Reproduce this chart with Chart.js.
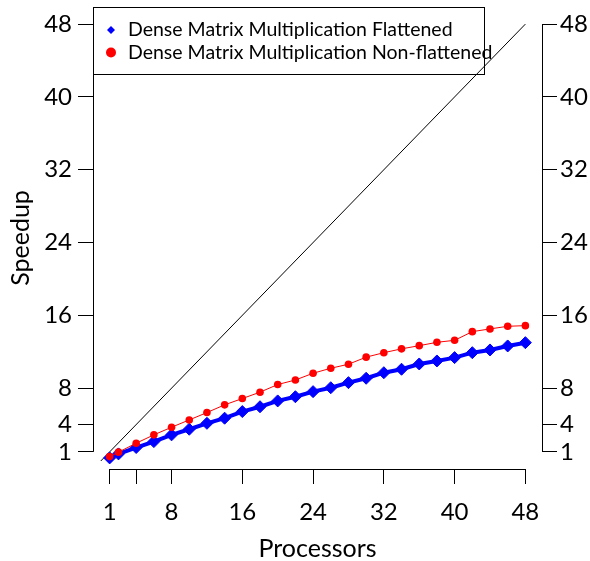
<!DOCTYPE html>
<html>
<head>
<meta charset="utf-8">
<script src="https://cdn.jsdelivr.net/npm/chart.js@4/dist/chart.umd.min.js"></script>
<style>
  body { margin: 0; background: #fff; }
  canvas { display: block; }
</style>
</head>
<body>
<canvas id="grafico" width="590" height="561"></canvas>
<script>
// datos
const processors = [1, 2, 4, 6, 8, 10, 12, 14, 16, 18, 20, 22, 24, 26, 28, 30, 32, 34, 36, 38, 40, 42, 44, 46, 48];
const flattened = [0.34, 0.78, 1.48, 2.13, 2.87, 3.49, 4.14, 4.70, 5.43, 5.96, 6.60, 7.06, 7.62, 8.05, 8.61, 9.09, 9.70, 10.08, 10.66, 10.99, 11.36, 11.90, 12.20, 12.64, 13.00];
const nonFlattened = [0.48, 0.97, 1.95, 2.87, 3.71, 4.51, 5.32, 6.17, 6.86, 7.56, 8.40, 8.90, 9.64, 10.19, 10.63, 11.41, 11.90, 12.32, 12.67, 13.04, 13.26, 14.21, 14.51, 14.80, 14.87];
const idealLine = [0, 48];
const xTicks = [1, 4, 8, 16, 24, 32, 40, 48];
const xTickLabels = ['1', '', '8', '16', '24', '32', '40', '48'];
const yTicks = [1, 4, 8, 16, 24, 32, 40, 48];
const yTickLabels = ['1', '4', '8', '16', '24', '32', '40', '48'];
const seriesNames = ['Dense Matrix Multiplication Flattened', 'Dense Matrix Multiplication Non-flattened'];

const fuente = 'Lato, "DejaVu Sans", sans-serif';
const azul = '#0000ff';
const rojo = '#ff0000';

function fijarTicks(valores) {
    return function (scale) {
        scale.ticks = valores.map(v => ({ value: v }));
    };
}

function etiqueta(valores, textos) {
    return function (value) {
        const i = valores.indexOf(value);
        return i >= 0 ? textos[i] : '';
    };
}

// ejes estilo R: linea solo entre el primer y el ultimo tick
const ejesR = {
    id: 'ejesR',
    afterDatasetsDraw(chart) {
        const ctx = chart.ctx;
        const a = chart.chartArea;
        const x = chart.scales.x, y = chart.scales.y;
        ctx.save();
        ctx.strokeStyle = '#000';
        ctx.lineWidth = 1;
        ctx.beginPath();
        const xl = Math.round(a.left) + 0.5, xr = Math.round(a.right) + 0.5, yb = Math.round(a.bottom) + 0.5;
        ctx.moveTo(xl, y.getPixelForValue(yTicks[0]));
        ctx.lineTo(xl, y.getPixelForValue(yTicks[yTicks.length - 1]));
        ctx.moveTo(xr, y.getPixelForValue(yTicks[0]));
        ctx.lineTo(xr, y.getPixelForValue(yTicks[yTicks.length - 1]));
        ctx.moveTo(x.getPixelForValue(xTicks[0]), yb);
        ctx.lineTo(x.getPixelForValue(xTicks[xTicks.length - 1]), yb);
        ctx.stroke();
        ctx.restore();
    }
};

// leyenda con caja, arriba a la izquierda
const leyendaR = {
    id: 'leyendaR',
    afterDraw(chart) {
        const ctx = chart.ctx;
        const a = chart.chartArea;
        const x0 = Math.round(a.left) + 0.5, y0 = Math.round(a.top) + 0.5;
        ctx.save();
        ctx.strokeStyle = '#000';
        ctx.lineWidth = 1;
        ctx.strokeRect(x0, y0, 391, 67);
        const mx = x0 + 17.5;
        const filas = [y0 + 22.5, y0 + 45];
        // rombo azul
        ctx.fillStyle = azul;
        ctx.beginPath();
        ctx.moveTo(mx - 4, filas[0]);
        ctx.lineTo(mx, filas[0] - 4);
        ctx.lineTo(mx + 4, filas[0]);
        ctx.lineTo(mx, filas[0] + 4);
        ctx.closePath();
        ctx.fill();
        // circulo rojo
        ctx.fillStyle = rojo;
        ctx.beginPath();
        ctx.arc(mx, filas[1], 5, 0, Math.PI * 2);
        ctx.fill();
        ctx.fillStyle = '#000';
        ctx.font = '19.5px ' + fuente;
        ctx.textBaseline = 'middle';
        ctx.textAlign = 'left';
        ctx.fillText(seriesNames[0], x0 + 34.5, filas[0]);
        ctx.fillText(seriesNames[1], x0 + 34.5, filas[1]);
        ctx.restore();
    }
};

const ejeComun = {
    type: 'linear',
    min: -0.88,
    max: 49.88,
    grid: { display: true, drawOnChartArea: false, drawTicks: true, tickLength: 15, color: '#000', lineWidth: 1 },
    border: { display: false },
};

const contexto = document.getElementById('grafico').getContext('2d');

const grafico = new Chart(contexto, {
    type: 'line',
    data: {
        datasets: [
            {
                label: seriesNames[0],
                data: processors.map((p, i) => ({ x: p, y: flattened[i] })),
                borderColor: azul,
                backgroundColor: azul,
                borderWidth: 4,
                pointStyle: 'rectRot',
                pointRadius: 6,
                pointBorderWidth: 1,
                order: 1,
            },
            {
                label: seriesNames[1],
                data: processors.map((p, i) => ({ x: p, y: nonFlattened[i] })),
                borderColor: rojo,
                backgroundColor: rojo,
                borderWidth: 1,
                pointStyle: 'circle',
                pointRadius: 3.8,
                pointBorderWidth: 0,
                order: 0,
            },
            {
                label: 'ideal',
                data: idealLine.map(v => ({ x: v, y: v })),
                borderColor: '#000',
                borderWidth: 1,
                pointRadius: 0,
                order: 2,
            },
        ],
    },
    options: {
        responsive: false,
        animation: false,
        layout: { padding: { top: 7, left: 0, right: 0, bottom: 0 } },
        plugins: {
            legend: { display: false },
            tooltip: { enabled: false },
        },
        elements: { line: { tension: 0 } },
        scales: {
            x: {
                ...ejeComun,
                position: 'bottom',
                afterBuildTicks: fijarTicks(xTicks),
                afterFit(scale) { scale.height = 92; scale.paddingLeft = 0; scale.paddingRight = 0; },
                ticks: {
                    autoSkip: false, maxRotation: 0, padding: 14, color: '#000',
                    font: { family: fuente, size: 24 },
                    callback: etiqueta(xTicks, xTickLabels),
                },
                title: {
                    display: true, text: 'Processors', color: '#000',
                    font: { family: fuente, size: 25 }, padding: { top: 0, bottom: -3 },
                },
            },
            y: {
                ...ejeComun,
                position: 'left',
                afterBuildTicks: fijarTicks(yTicks),
                afterFit(scale) { scale.width = 93; scale.paddingTop = 0; scale.paddingBottom = 0; },
                ticks: {
                    autoSkip: false, padding: 6, color: '#000',
                    font: { family: fuente, size: 24 },
                    callback: etiqueta(yTicks, yTickLabels),
                },
                title: {
                    display: true, text: 'Speedup', color: '#000',
                    font: { family: fuente, size: 25 }, padding: { top: 6, bottom: 0 },
                },
            },
            y2: {
                ...ejeComun,
                axis: 'y',
                position: 'right',
                afterBuildTicks: fijarTicks(yTicks),
                afterFit(scale) { scale.width = 48; scale.paddingTop = 0; scale.paddingBottom = 0; },
                ticks: {
                    autoSkip: false, padding: 3, color: '#000',
                    font: { family: fuente, size: 24 },
                    callback: etiqueta(yTicks, yTickLabels),
                },
            },
        },
    },
    plugins: [ejesR, leyendaR],
});
</script>
</body>
</html>
